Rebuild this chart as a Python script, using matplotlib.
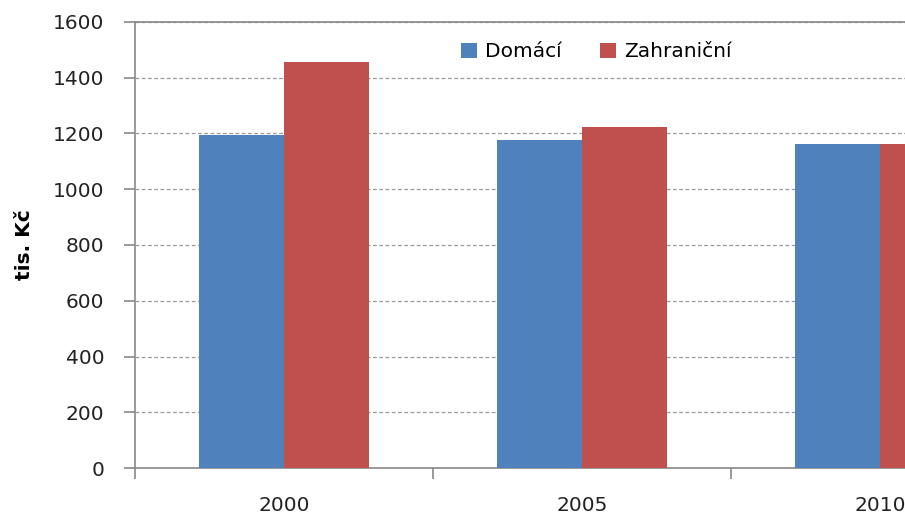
import matplotlib
matplotlib.use("Agg")
import matplotlib.pyplot as plt
import numpy as np

years = ["2000", "2005", "2010"]
domaci = [1193, 1177, 1164]
zahranicni = [1455, 1223, 1164]
series_names = ["Domácí", "Zahraniční"]
yticks = [0, 200, 400, 600, 800, 1000, 1200, 1400, 1600]

plt.rcParams['font.family'] = ['DejaVu Sans']

fig = plt.figure(figsize=(9.05, 5.15), dpi=100)
ax = fig.add_axes([135/905, 47/515, 1 - 135/905, (468-22)/515])

x = np.arange(len(years))
w = 0.285
ax.bar(x - w/2, domaci, w, color="#4F81BD", label=series_names[0], zorder=3)
ax.bar(x + w/2, zahranicni, w, color="#C0504D", label=series_names[1], zorder=3)

ax.set_ylim(0, 1600)
ax.set_xlim(-0.5, 2.084)
ax.set_yticks(yticks)
ax.set_yticklabels([str(v) for v in yticks], fontsize=14.5, color="#222222")
ax.yaxis.grid(True, linestyle=(0, (3, 2)), color="#999999", linewidth=0.9, zorder=0)
ax.set_axisbelow(True)

ax.set_xticks(x)
ax.set_xticklabels(years, fontsize=14.5, color="#222222")
ax.tick_params(axis='x', length=0, pad=20)
ax.set_xticks([-0.5, 0.5, 1.5], minor=True)
ax.tick_params(axis='x', which='minor', length=8, color="#888888", width=1.2)
ax.tick_params(axis='y', length=8, color="#888888", width=1.2, pad=14)

for s in ["left", "bottom", "top"]:
    ax.spines[s].set_color("#888888")
    ax.spines[s].set_linewidth(1.2)
ax.spines["right"].set_visible(False)

ax.set_ylabel("tis. Kč", fontsize=14.5, fontweight="bold", labelpad=14)

ax.legend(loc="upper left", bbox_to_anchor=(0.40, 0.995), ncol=2, frameon=False,
          fontsize=14.5, handlelength=0.8, handleheight=0.8, columnspacing=1.9,
          handletextpad=0.4)

fig.savefig("out.png", dpi=100)
